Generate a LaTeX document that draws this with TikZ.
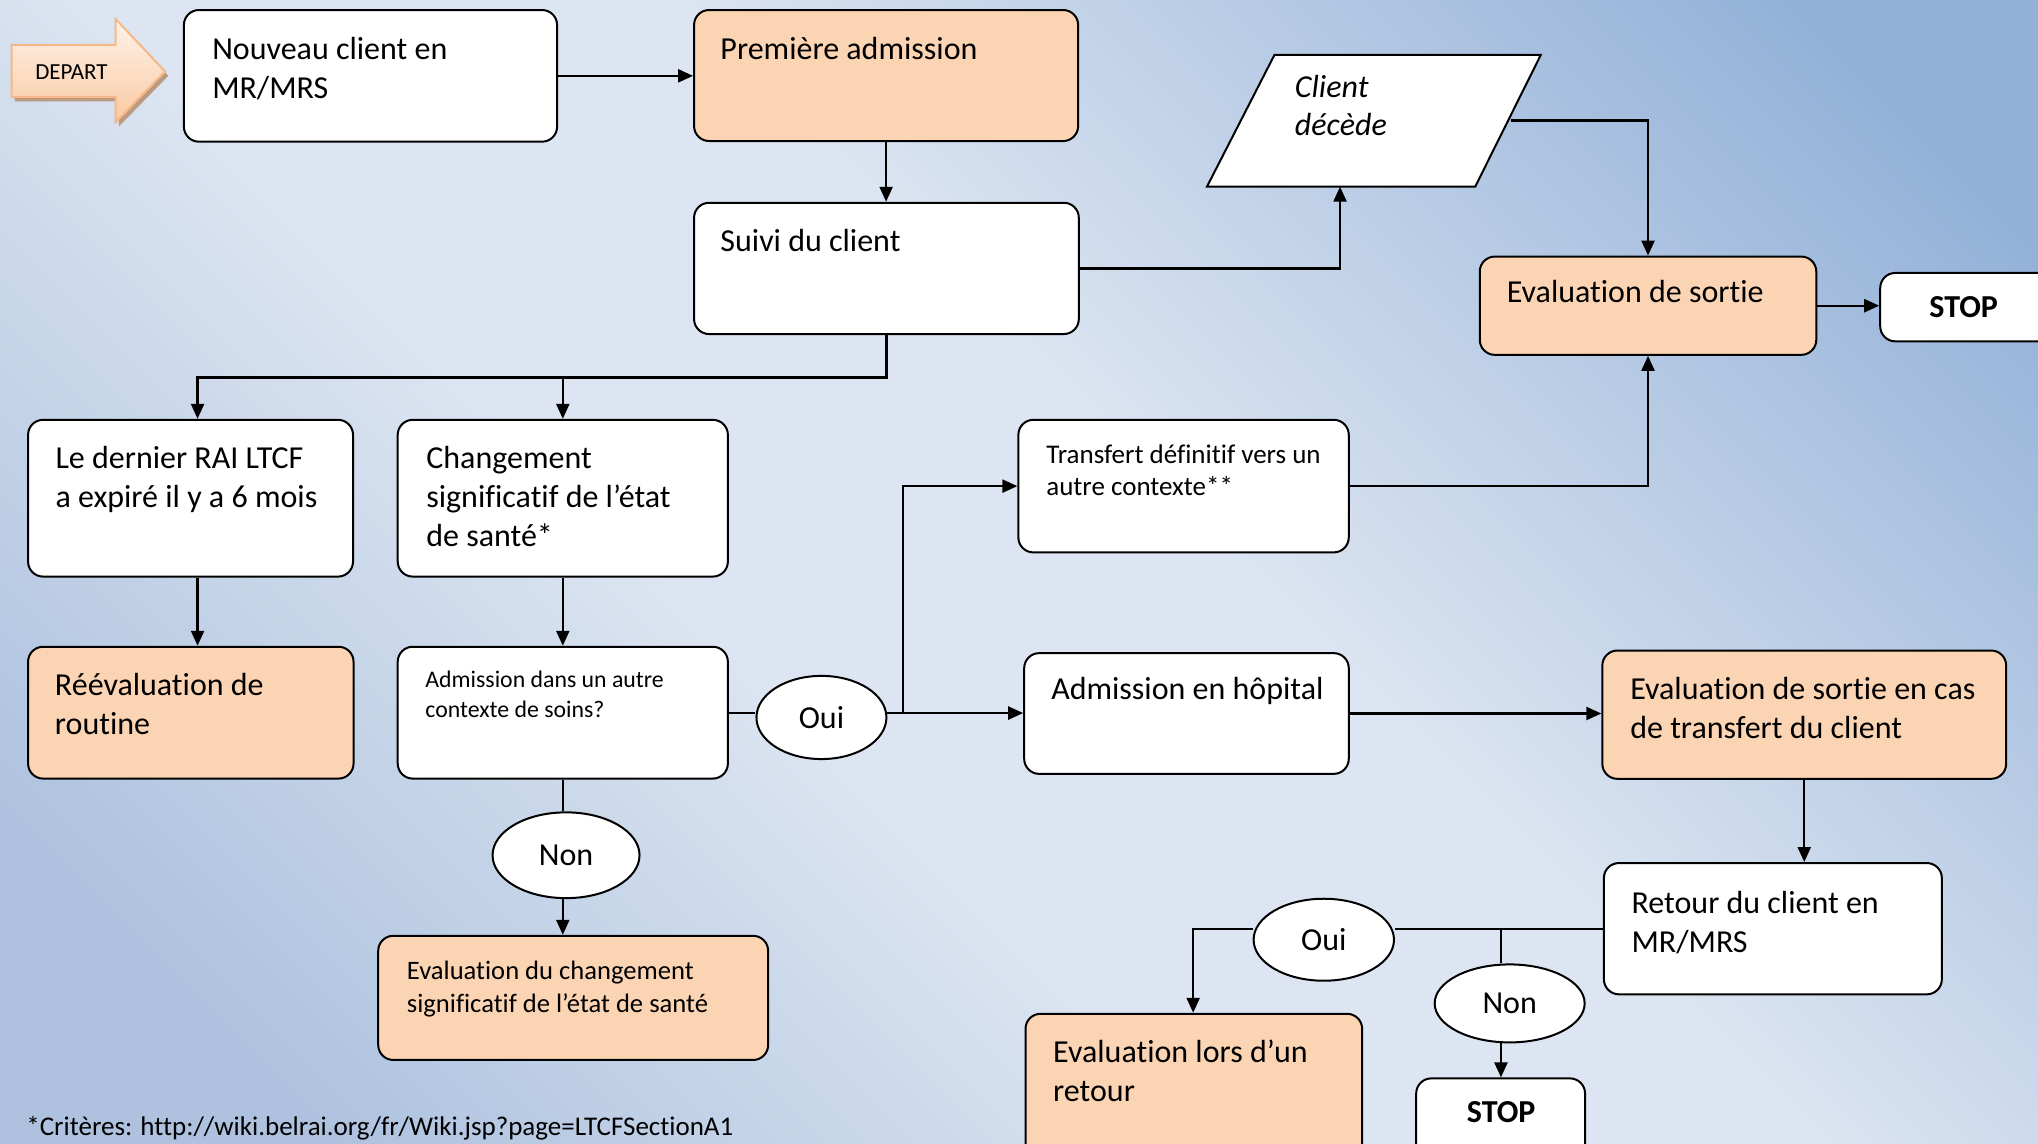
\documentclass[tikz,border=0pt]{standalone}
\usepackage{fontspec}
\setmainfont{Carlito}[Ligatures={TeX,NoCommon}]
\usetikzlibrary{arrows.meta,shapes.geometric,fit,calc}
\definecolor{peach}{HTML}{FBD4B4}
\definecolor{bgA}{HTML}{AEC2DF}
\definecolor{bgB}{HTML}{DCE5F1}
\definecolor{bgC}{HTML}{93B1D8}
\definecolor{departTop}{HTML}{FEF3EA}
\definecolor{departBot}{HTML}{FAC9A2}
\definecolor{departLine}{HTML}{F6B886}
\definecolor{departShadow}{HTML}{BB9A80}
\pgfdeclarelayer{bg}
\pgfdeclarelayer{lines}
\pgfsetlayers{bg,lines,main}
\pgfdeclarehorizontalshading{bgshade}{100bp}{color(0bp)=(bgA); color(22bp)=(bgA); color(42bp)=(bgB); color(55bp)=(bgB); color(80bp)=(bgC); color(100bp)=(bgC)}
\newcommand\bigf{\fontsize{16pt}{19.5pt}\selectfont}
\newcommand\boxtext[5]{\node[txt, font={#4}, yshift=#3] (#1) at (#2) {\rule{0pt}{#3}#5};}
\begin{document}
\begin{tikzpicture}[x=0.65pt, y=-0.65pt,
  box/.style={rectangle, rounded corners=7.5pt, draw=black, line width=1pt, inner sep=0pt},
  wbox/.style={box, fill=white},
  pbox/.style={box, fill=peach},
  ell/.style={ellipse, draw=black, fill=white, line width=1pt, inner sep=0pt, font=\bigf},
  txt/.style={anchor=north west, inner sep=0pt, align=left},
  conn/.style={line width=1.15pt, draw=black},
  arr/.style={conn, -{Triangle[length=7.5pt,width=6.5pt]}}
]
\begin{pgfonlayer}{bg}
\shade[shading=bgshade, shading angle=45] (0,0) rectangle (1568,880);
\end{pgfonlayer}
\useasboundingbox (0,0) rectangle (1568,880);

\begin{scope}
\clip (0,0) rectangle (1568,880);
% DEPART arrow
\fill[departShadow] (11.5,37.9) -- (91.5,37.9) -- (91.5,17.9) -- (129.5,58.3) -- (91.5,97.3) -- (91.5,77.9) -- (11.5,77.9) -- cycle;
\shade[top color=departTop, bottom color=departBot, draw=departLine, line width=1pt] (9,34.6) -- (89,34.6) -- (89,14.6) -- (127,55) -- (89,94) -- (89,74.6) -- (9,74.6) -- cycle;
\node[font=\fontsize{11.5pt}{13pt}\selectfont, anchor=base, inner sep=0pt] (depart) at (55,61) {DEPART};

% boxes
\node[wbox, fit={(141.5,7.7)(428.6,109)}] (nouveau) {};
\node[pbox, fit={(534,7.7)(829.5,108.5)}] (premiere) {};
\node[wbox, fit={(534,156)(830,257)}] (suivi) {};
\node[pbox, fit={(1138.5,197.4)(1397.4,273)}] (evalsortie) {};
\node[wbox, fit={(1446.6,210)(1620,262.6)}] (stop1) {};
\node[wbox, fit={(21.6,323)(271.6,443.6)}] (dernier) {};
\node[wbox, fit={(306,323)(560,443.6)}] (changement) {};
\node[pbox, fit={(21.6,497.6)(272,599)}] (reeval) {};
\node[wbox, fit={(306,497.6)(560,599)}] (admission) {};
\node[wbox, fit={(783.5,323)(1037.7,425)}] (transfert) {};
\node[wbox, fit={(788,502.5)(1037.7,595.4)}] (hopital) {};
\node[pbox, fit={(1232.8,500.5)(1543.5,599.2)}] (evaltransfert) {};
\node[wbox, fit={(1234,664)(1494,765)}] (retour) {};
\node[pbox, fit={(789,780)(1048,930)}] (evalretour) {};
\node[wbox, fit={(1089.6,829.7)(1219.5,930)}] (stop2) {};
\node[pbox, fit={(291,720)(591,815.5)}] (evalchg) {};

% parallelogram
\draw[fill=white, line width=1pt] (928.6,143.6) -- (980.5,42.3) -- (1185.4,42.3) -- (1135,143.6) -- cycle;
\coordinate (decesbottom) at (1031,143.6);
\coordinate (decesright) at (1162.4,92.8);

% ellipses
\node[ell, minimum width=65pt, minimum height=41.6pt] (oui1) at (632,552) {Oui};
\node[ell, minimum width=73.5pt, minimum height=42.9pt] (non1) at (435.5,658) {Non};
\node[ell, minimum width=70.2pt, minimum height=41pt] (oui2) at (1018.5,723) {Oui};
\node[ell, minimum width=75pt, minimum height=39pt] (non2) at (1161.5,772) {Non};

% texts
\boxtext{tnouveau}{163,45.5}{16pt}{\bigf}{Nouveau client en\\MR/MRS}
\boxtext{tpremiere}{554,45.5}{16pt}{\bigf}{Première admission}
\boxtext{tsuivi}{554,193}{16pt}{\bigf}{Suivi du client}
\boxtext{tdeces}{996,74.4}{16pt}{\fontsize{16pt}{19.2pt}\selectfont\itshape}{Client\\décède}
\boxtext{tevalsortie}{1159,232.5}{16pt}{\bigf}{Evaluation de sortie}
\boxtext{tdernier}{42.4,360.5}{16pt}{\bigf}{Le dernier RAI LTCF\\a expiré il y a 6 mois}
\boxtext{tchangement}{327.7,360.5}{16pt}{\bigf}{Changement\\significatif de l’état\\de santé*}
\boxtext{treeval}{42,534.5}{16pt}{\bigf}{Réévaluation de\\routine}
\boxtext{tadmission}{327,528.5}{11.9pt}{\fontsize{11.9pt}{15pt}\selectfont}{Admission dans un autre\\contexte de soins?}
\boxtext{ttransfert}{804.7,356.4}{13.5pt}{\fontsize{13.5pt}{15.9pt}\selectfont}{Transfert définitif vers un\\autre contexte**}
\boxtext{thopital}{808.5,538}{16pt}{\bigf}{Admission en hôpital}
\boxtext{tevaltransfert}{1254,537.5}{16pt}{\bigf}{Evaluation de sortie en cas\\de transfert du client}
\boxtext{tretour}{1255,702.5}{16pt}{\bigf}{Retour du client en\\MR/MRS}
\boxtext{tevalretour}{810,817.5}{16pt}{\bigf}{Evaluation lors d’un\\retour}
\boxtext{tevalchg}{312.8,753}{13.3pt}{\fontsize{13.3pt}{16.6pt}\selectfont}{Evaluation du changement\\significatif de l’état de santé}
\node[font=\bigf\bfseries, anchor=base, inner sep=0pt] (tstop1) at (1510.8,244) {STOP};
\node[font=\bigf\bfseries, anchor=base, inner sep=0pt] (tstop2) at (1155,863.5) {STOP};
\end{scope}

\node[anchor=base west, inner sep=0pt, font=\fontsize{13.5pt}{15pt}\selectfont] (note) at (20,874) {*Critères: http://wiki.belrai.org/fr/Wiki.jsp?page=LTCFSectionA1};

% connectors
\begin{pgfonlayer}{lines}
\draw[arr] (nouveau.east) -- (nouveau.east -| premiere.west);
\draw[arr] (premiere.south) -- (premiere.south |- suivi.north);
\draw[arr] (suivi.east) -| (decesbottom);
\draw[arr] (decesright) -| (evalsortie.north);
\draw[arr] (evalsortie.east) -- (evalsortie.east -| stop1.west);
\coordinate (j1) at (152,290.5);
\draw[arr] (suivi.south) |- (j1) -- (j1 |- dernier.north);
\draw[arr] (changement.north |- j1) -- (changement.north);
\draw[arr] (j1 |- dernier.south) -- (j1 |- reeval.north);
\draw[arr] (changement.south) -- (admission.north);
\draw[conn] (admission.east) -- (admission.east -| oui1.west);
\coordinate (j2) at (694.6,548.6);
\draw[conn] (oui1.east |- j2) -- (j2);
\draw[arr] (j2) |- (transfert.west);
\draw[arr] (j2) -- (j2 -| hopital.west);
\draw[arr] (transfert.east) -| (evalsortie.south);
\draw[arr] (hopital.east) -- (hopital.east -| evaltransfert.west);
\draw[arr] (evaltransfert.south) -- (evaltransfert.south |- retour.north);
\coordinate (j3) at (918,714.7);
\coordinate (j4) at (1154.8,714.7);
\draw[conn] (retour.west |- j3) -- (oui2.east |- j3);
\draw[arr] (oui2.west |- j3) -- (j3) -- (j3 |- evalretour.north);
\draw[conn] (j4) -- (j4 |- non2.north);
\draw[arr] (j4 |- non2.south) -- (j4 |- stop2.north);
\draw[conn] (admission.south) -- (admission.south |- non1.north);
\draw[arr] (admission.south |- non1.south) -- (admission.south |- evalchg.north);
\end{pgfonlayer}
\end{tikzpicture}
\end{document}
